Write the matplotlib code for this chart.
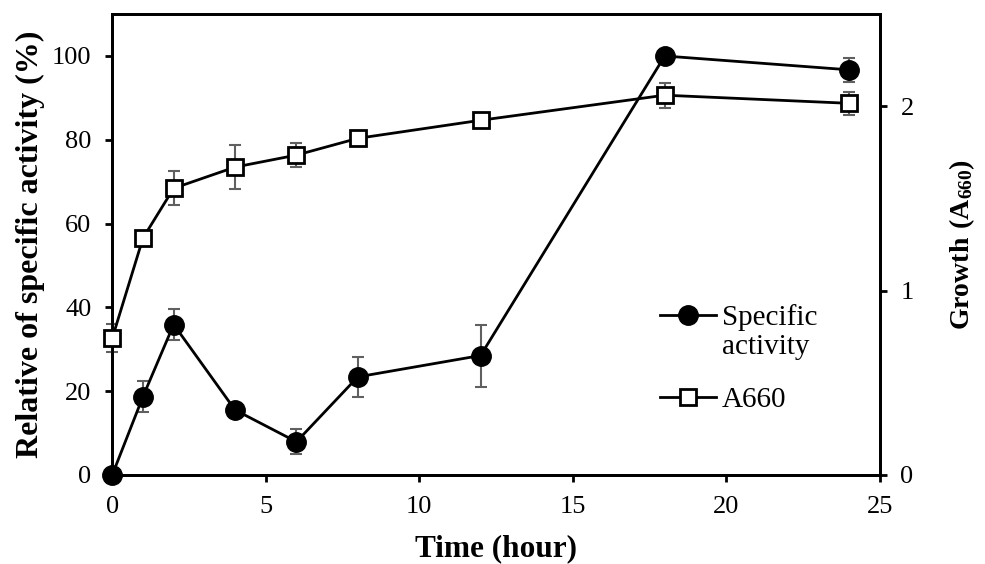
import matplotlib
matplotlib.use('Agg')
import matplotlib.pyplot as plt

plt.rcParams['font.family'] = ['Liberation Serif', 'DejaVu Serif']
plt.rcParams['mathtext.fontset'] = 'custom'
plt.rcParams['mathtext.bf'] = 'Liberation Serif:bold'
plt.rcParams['mathtext.rm'] = 'Liberation Serif'

time = [0, 1, 2, 4, 6, 8, 12, 18, 24]
activity = [0, 18.7, 35.9, 15.5, 7.9, 23.4, 28.5, 100, 96.7]
activity_err = [0, 3.7, 3.8, 0.8, 3.0, 4.7, 7.4, 0.5, 2.8]
a660 = [0.742, 1.285, 1.555, 1.67, 1.735, 1.826, 1.924, 2.06, 2.016]
a660_err = [0.076, 0.03, 0.092, 0.12, 0.065, 0.02, 0.02, 0.068, 0.062]

fig = plt.figure(figsize=(9.85, 5.64), dpi=100)
ax1 = fig.add_axes([0.114, 0.158, 0.779, 0.817])
ax2 = ax1.twinx()

ecol = '#606060'
ax1.errorbar(time, activity, yerr=activity_err, fmt='none', ecolor=ecol,
             elinewidth=1.5, capsize=4, capthick=1.5, zorder=2, clip_on=False)
l1, = ax1.plot(time, activity, '-o', color='black', lw=2, markersize=14,
               markerfacecolor='black', zorder=3, clip_on=False)

ax2.errorbar(time, a660, yerr=a660_err, fmt='none', ecolor=ecol,
             elinewidth=1.5, capsize=4, capthick=1.5, zorder=2, clip_on=False)
l2, = ax2.plot(time, a660, '-s', color='black', lw=2, markersize=12,
               markerfacecolor='white', markeredgewidth=2, zorder=3, clip_on=False)

ax1.set_xlim(0, 25)
ax1.set_ylim(0, 110)
ax2.set_ylim(0, 2.5)
ax1.set_xticks([0, 5, 10, 15, 20, 25])
ax1.set_yticks([0, 20, 40, 60, 80, 100])
ax2.set_yticks([0, 1, 2])

for ax in (ax1, ax2):
    for s in ax.spines.values():
        s.set_linewidth(2)
    ax.tick_params(direction='out', length=5, width=2, labelsize=19, pad=10)

ax1.set_xlabel('Time (hour)', fontsize=22.5, fontweight='bold', labelpad=12)
ax1.set_ylabel('Relative of specific activity (%)', fontsize=23, fontweight='bold', labelpad=5)
ax2.set_ylabel(r'$\mathbf{Growth\ (A_{660})}$', fontsize=20, labelpad=24)

leg = ax1.legend([l1, l2], ['Specific', 'A660'], loc='lower left',
                 bbox_to_anchor=(0.68, 0.077), frameon=False, fontsize=21,
                 handlelength=1.9, handletextpad=0.2, labelspacing=1.9)

# second line of the first legend label, placed under "Specific"
fig.canvas.draw()
bb = leg.get_texts()[0].get_window_extent().transformed(fig.transFigure.inverted())
fig.text(bb.x0, bb.y0 - 0.005, 'activity', fontsize=21, ha='left', va='top')

fig.savefig('out.png', dpi=100)
